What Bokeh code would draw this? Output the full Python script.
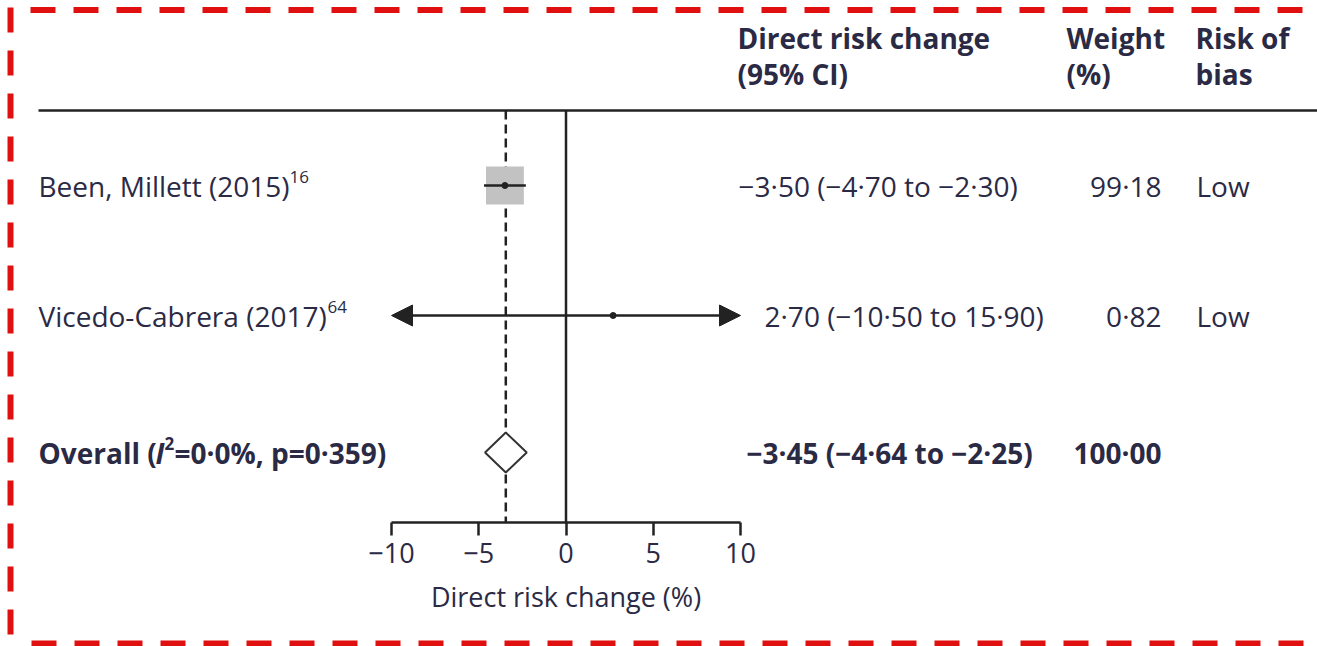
import numpy as np
from bokeh.plotting import figure
from bokeh.models import Range1d, LinearAxis, FixedTicker, Arrow, NormalHead
from bokeh.core.properties import value
from bokeh.embed import file_html
from bokeh.resources import INLINE

# ---- study data ----
studies = ["Been, Millett (2015)", "Vicedo-Cabrera (2017)"]
refs = ["16", "64"]
estimates = [-3.50, 2.70]
lower = [-4.70, -10.50]
upper = [-2.30, 15.90]
weights = [99.18, 0.82]
bias = ["Low", "Low"]

overall_est = -3.45
overall_lo = -4.64
overall_hi = -2.25
overall_weight = 100.00
i_squared = 0.0
p_het = 0.359

axis_ticks = [-10, -5, 0, 5, 10]
axis_title = "Direct risk change (%)"
col_headers = [["Direct risk change", "(95% CI)"], ["Weight", "(%)"], ["Risk of", "bias"]]

# ---- layout (pixels) ----
W, H = 1317, 646
PX_LO, PX_HI = 391, 740          # screen position of axis ends (-10 and 10)
AX_LO, AX_HI = axis_ticks[0], axis_ticks[-1]
scale = (PX_HI - PX_LO) / (AX_HI - AX_LO)
x_start = AX_LO - PX_LO / scale
x_end = x_start + W / scale


def xpx(px):
    return x_start + px / scale


ROW_Y = [185, 315]
OVERALL_Y = 452
HEADER_Y = [37, 73]
RULE_Y = 110
AXIS_Y = 522

FONT = "Open Sans"
INK = "#2b2a45"
LINE = "#222222"
FS = "28px"


def fmt(v):
    return f"{v:.2f}".replace(".", "\u00b7").replace("-", "\u2212")


def ci_text(e, lo, hi):
    return f"{fmt(e)} ({fmt(lo)} to {fmt(hi)})"


p = figure(width=W, height=H, x_range=Range1d(x_start, x_end), y_range=Range1d(H, 0),
           x_axis_type=None, y_axis_type=None, toolbar_location=None,
           output_backend="svg", min_border=0, outline_line_color=None,
           background_fill_color="white", border_fill_color="white")
p.grid.visible = False

# dashed red frame
red = "#e01010"
p.line([xpx(30), xpx(W)], [9.5, 9.5], line_color=red, line_width=6, line_dash="25 18")
p.line([xpx(10), xpx(10)], [7, H], line_color=red, line_width=6, line_dash="25 18")
p.line([xpx(31), xpx(W)], [643, 643], line_color=red, line_width=6, line_dash="25 18")

# header rule
p.line([xpx(38), xpx(W)], [RULE_Y, RULE_Y], line_color=LINE, line_width=2.5)

# reference line at zero and dashed line at pooled estimate
p.segment(x0=[0], y0=[RULE_Y], x1=[0], y1=[AXIS_Y], line_color=LINE, line_width=2.5)
p.segment(x0=[overall_est], y0=[RULE_Y], x1=[overall_est], y1=[AXIS_Y],
          line_color=LINE, line_width=2.5, line_dash="9 5")

# study boxes sized by weight
box_sizes = [38 * np.sqrt(w / 100.0) for w in weights]
p.scatter(estimates, ROW_Y, marker="square", size=box_sizes,
          fill_color="#c2c2c2", line_color=None)

# confidence intervals (arrows where they run past the axis)
for e, lo, hi, y in zip(estimates, lower, upper, ROW_Y):
    clo, chi = max(lo, AX_LO), min(hi, AX_HI)
    if lo < AX_LO or hi > AX_HI:
        head = dict(size=21, fill_color=LINE, line_color=LINE, line_width=1)
        p.add_layout(Arrow(x_start=clo, y_start=y, x_end=chi, y_end=y,
                           line_color=LINE, line_width=2.5,
                           start=NormalHead(**head) if lo < AX_LO else None,
                           end=NormalHead(**head) if hi > AX_HI else None))
    else:
        p.segment(x0=[clo], y0=[y], x1=[chi], y1=[y], line_color=LINE, line_width=2.5)
p.scatter(estimates, ROW_Y, marker="circle", size=6, fill_color=LINE, line_color=LINE)

# pooled diamond
p.patch([overall_lo, overall_est, overall_hi, overall_est],
        [OVERALL_Y, OVERALL_Y - 20, OVERALL_Y, OVERALL_Y + 20],
        fill_color="white", line_color="#333333", line_width=2)

# x axis
xaxis = LinearAxis(fixed_location=AXIS_Y, bounds=(AX_LO, AX_HI),
                   ticker=FixedTicker(ticks=axis_ticks),
                   major_label_overrides={t: str(t).replace("-", "\u2212") for t in axis_ticks},
                   axis_label=axis_title)
xaxis.axis_line_color = LINE
xaxis.axis_line_width = 2.5
xaxis.major_tick_line_color = LINE
xaxis.major_tick_line_width = 2.5
xaxis.major_tick_out = 13
xaxis.major_tick_in = 0
xaxis.minor_tick_out = 0
xaxis.minor_tick_in = 0
xaxis.major_label_text_font = FONT
xaxis.major_label_text_font_size = "27px"
xaxis.major_label_text_color = INK
xaxis.major_label_standoff = 7
xaxis.axis_label_text_font = FONT
xaxis.axis_label_text_font_size = "27px"
xaxis.axis_label_text_font_style = "normal"
xaxis.axis_label_text_color = INK
xaxis.axis_label_standoff = 12
p.add_layout(xaxis, "below")


def txt(x_px, y, s, size=FS, align="left", style="normal", baseline="middle"):
    p.text(x=[xpx(x_px)], y=[y], text=[s], text_font=value(FONT), text_font_size=size,
           text_color=INK, text_align=align, text_baseline=baseline, text_font_style=style)


# column headers
for (l1, l2), xh in zip(col_headers, [737, 1066, 1195]):
    txt(xh, HEADER_Y[0], l1, style="bold")
    txt(xh, HEADER_Y[1], l2, style="bold")

# study rows
sup_x = [289, 327]
ci_x = [738, 764]
for name, ref, e, lo, hi, w, b, y, sx, cx in zip(studies, refs, estimates, lower, upper,
                                                weights, bias, ROW_Y, sup_x, ci_x):
    txt(38, y, name)
    txt(sx, y - 9, ref, size="17px")
    txt(cx, y, ci_text(e, lo, hi))
    txt(1161, y, fmt(w), align="right")
    txt(1196, y, b)

# pooled row
txt(38, OVERALL_Y, "Overall (", style="bold")
txt(155, OVERALL_Y, "I", style="bold italic")
txt(164, OVERALL_Y - 9, "2", size="17px", style="bold")
txt(174, OVERALL_Y, f"={i_squared:.1f}%, p={p_het:.3f})".replace(".", "\u00b7"), style="bold")
txt(746, OVERALL_Y, ci_text(overall_est, overall_lo, overall_hi), style="bold")
txt(1161, OVERALL_Y, fmt(overall_weight), align="right", style="bold")

open("out.html", "w").write(file_html(p, INLINE))
